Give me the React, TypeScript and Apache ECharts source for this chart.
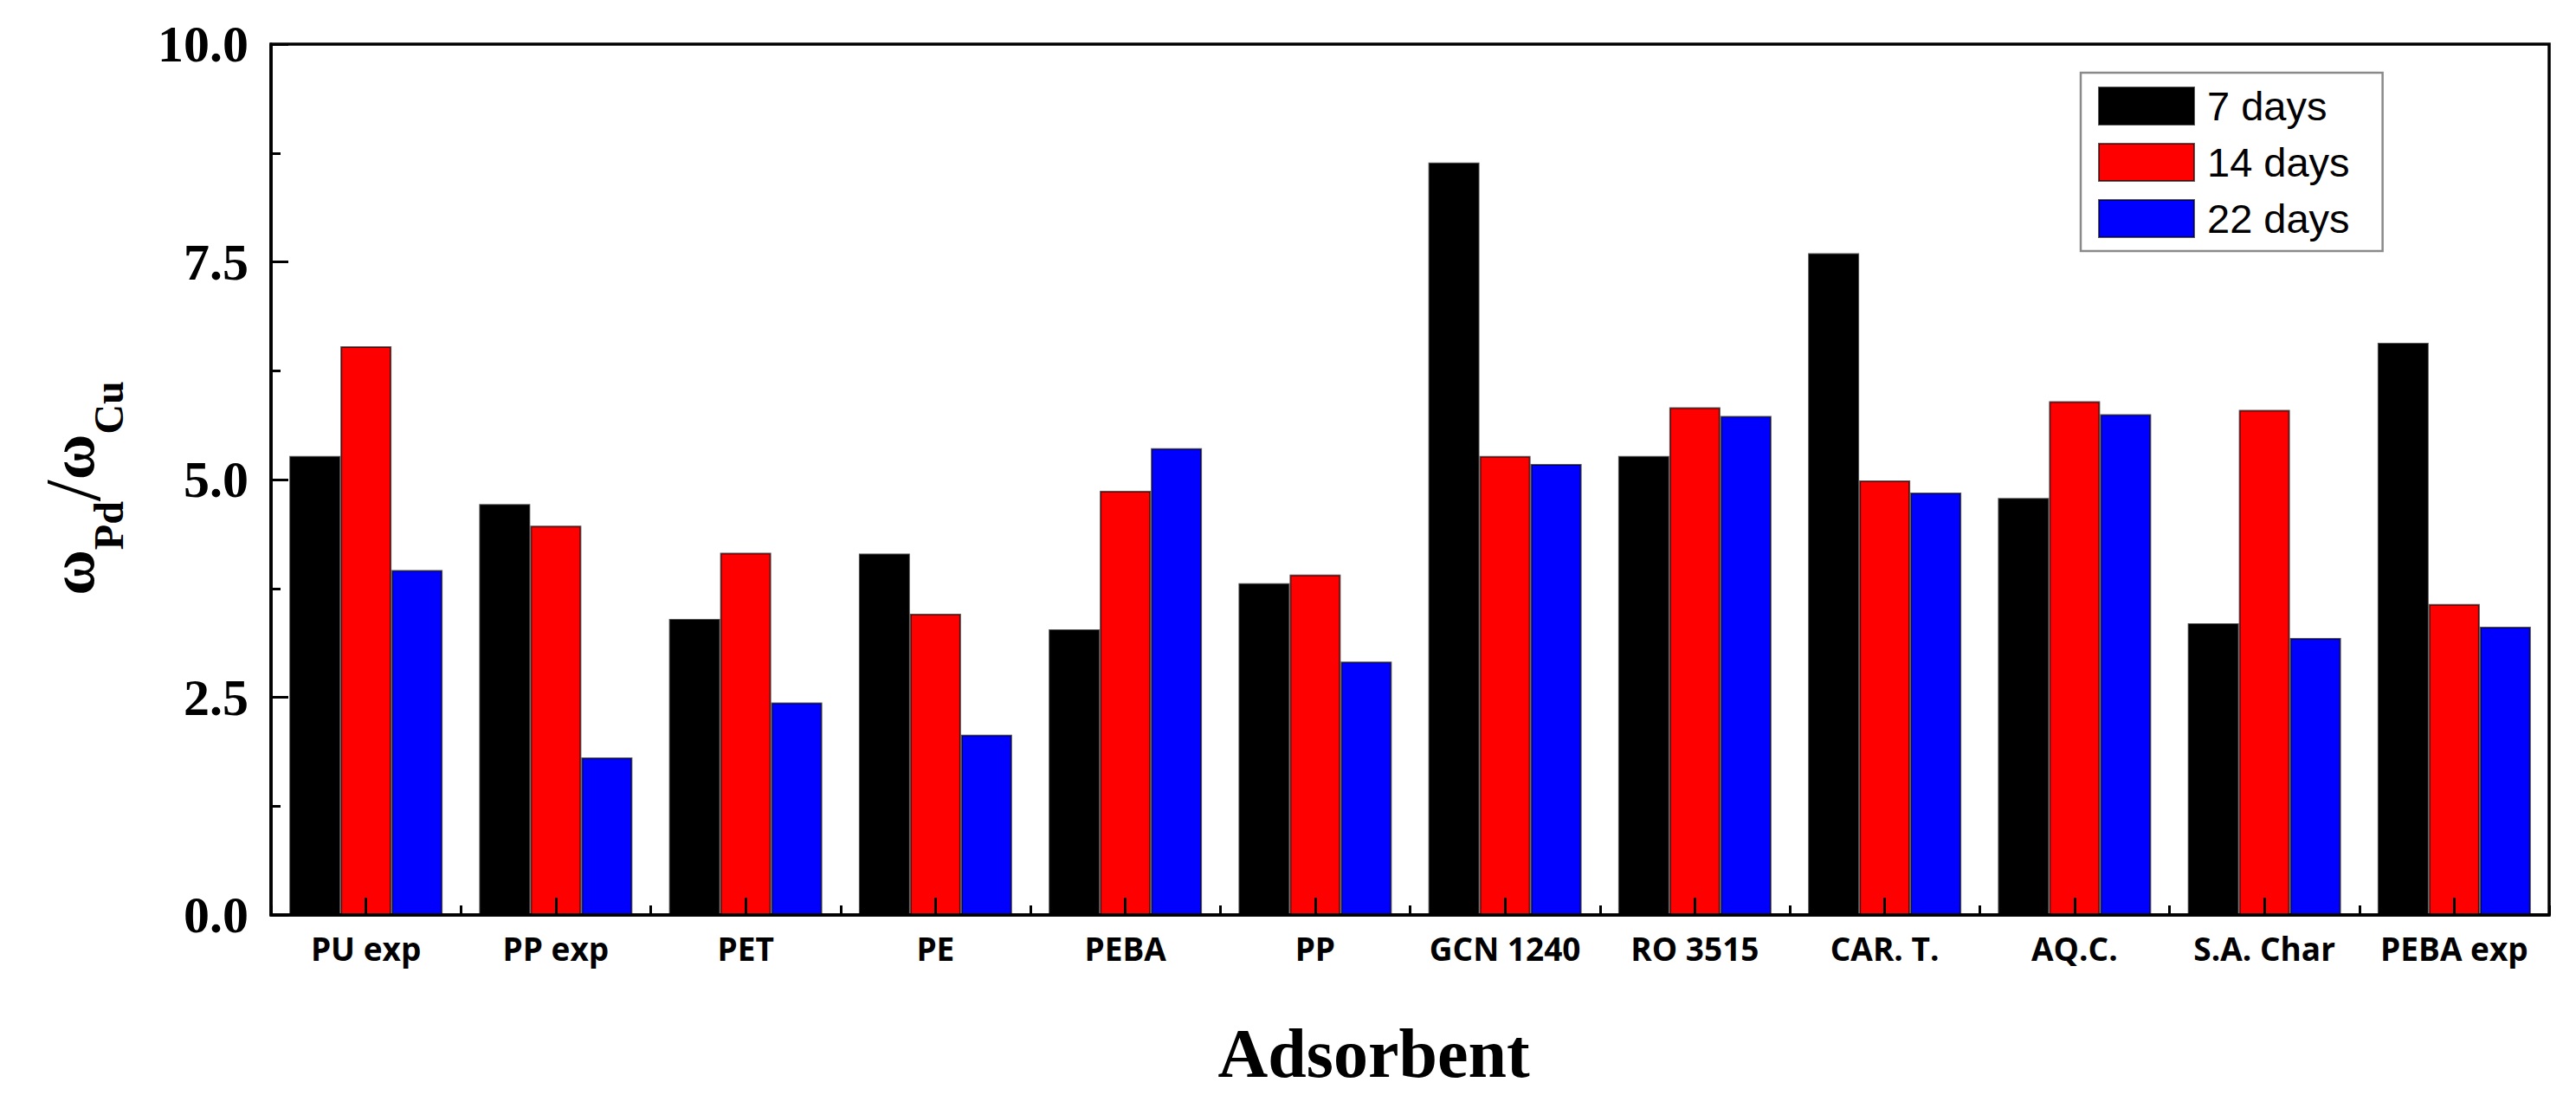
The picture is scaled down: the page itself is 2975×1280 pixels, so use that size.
import React, { useEffect, useRef } from "react";
import * as echarts from "echarts";

const categories = [
  "PU exp", "PP exp", "PET", "PE", "PEBA", "PP",
  "GCN 1240", "RO 3515", "CAR. T.", "AQ.C.", "S.A. Char", "PEBA exp",
];
const seriesNames = ["7 days", "14 days", "22 days"];
const days7 = [5.27, 4.72, 3.40, 4.15, 3.28, 3.81, 8.64, 5.27, 7.60, 4.79, 3.35, 6.57];
const days14 = [6.53, 4.47, 4.16, 3.46, 4.87, 3.91, 5.27, 5.83, 4.99, 5.90, 5.80, 3.57];
const days22 = [3.96, 1.81, 2.44, 2.07, 5.36, 2.91, 5.18, 5.73, 4.85, 5.75, 3.18, 3.31];
const seriesColors = ["#000000", "#ff0000", "#0000ff"];
const yTicks = [0, 2.5, 5, 7.5, 10];

export default function App() {
  const ref = useRef<HTMLDivElement>(null);
  useEffect(() => {
    if (!ref.current) return;
    const chart = echarts.init(ref.current, null, { renderer: "svg" });
    const values = [days7, days14, days22];
    chart.setOption({
      animation: false,
      backgroundColor: "#ffffff",
      grid: {
        left: 313,
        right: 31,
        top: 51,
        bottom: 223,
        show: true,
        borderColor: "#000",
        borderWidth: 3.5,
        backgroundColor: "transparent",
      },
      legend: {
        orient: "vertical",
        left: 2403,
        top: 84,
        icon: "rect",
        itemWidth: 110,
        itemHeight: 43,
        itemGap: 18,
        padding: [15, 38, 14, 20],
        borderColor: "#8a8a8a",
        borderWidth: 2.5,
        backgroundColor: "#fff",
        textStyle: {
          fontFamily: "Liberation Sans",
          fontSize: 47,
          color: "#000",
          lineHeight: 43,
          padding: [0, 0, 0, 10],
        },
        data: seriesNames,
      },
      xAxis: [
        {
          type: "category",
          data: categories,
          z: 10,
          axisLine: { show: true, lineStyle: { color: "#000", width: 3.5 } },
          axisTick: {
            show: true,
            inside: true,
            alignWithLabel: true,
            interval: 0,
            length: 20,
            lineStyle: { color: "#000", width: 3 },
          },
          axisLabel: {
            interval: 0,
            margin: 20,
            fontFamily: "Open Sans",
            fontWeight: "bold",
            fontSize: 37,
            color: "#000",
          },
          splitLine: { show: false },
          name: "Adsorbent",
          nameLocation: "middle",
          nameGap: 120,
          nameTextStyle: {
            fontFamily: "Liberation Serif",
            fontWeight: "bold",
            fontSize: 80,
            color: "#000",
            padding: [0, 84, 0, 0],
          },
        },
        {
          type: "category",
          data: categories,
          position: "bottom",
          z: 10,
          axisLine: { show: false },
          axisTick: {
            show: true,
            inside: true,
            alignWithLabel: false,
            interval: 0,
            length: 11,
            lineStyle: { color: "#000", width: 3 },
          },
          axisLabel: { show: false },
          splitLine: { show: false },
        },
      ],
      yAxis: {
        type: "value",
        min: yTicks[0],
        max: yTicks[yTicks.length - 1],
        interval: 2.5,
        z: 10,
        axisLine: { show: true, lineStyle: { color: "#000", width: 3.5 } },
        axisTick: { show: true, inside: true, length: 20, lineStyle: { color: "#000", width: 3 } },
        minorTick: { show: true, splitNumber: 2, length: 11, lineStyle: { color: "#000", width: 3 } },
        splitLine: { show: false },
        axisLabel: {
          margin: 26,
          fontFamily: "Liberation Serif",
          fontWeight: "bold",
          fontSize: 60,
          color: "#000",
          formatter: (v: number) => v.toFixed(1),
        },
        name: "{w|ω}{s|Pd}{sl|/}{w|ω}{s|Cu}",
        nameLocation: "middle",
        nameGap: 184,
        nameTextStyle: {
          color: "#000",
          padding: [0, 20, 0, 0],
          rich: {
            w: { fontFamily: "Liberation Serif", fontWeight: "bold", fontSize: 72, lineHeight: 72, color: "#000" },
            sl: { fontFamily: "Liberation Serif", fontWeight: "normal", fontSize: 90, lineHeight: 90, color: "#000" },
            s: {
              fontFamily: "Liberation Serif",
              fontWeight: "bold",
              fontSize: 48,
              lineHeight: 48,
              padding: [82, 0, 0, 0],
              color: "#000",
            },
          },
        },
      },
      series: seriesNames.map((name, i) => ({
        name,
        type: "bar",
        xAxisIndex: 0,
        data: values[i],
        barWidth: 59,
        barGap: "0%",
        itemStyle: {
          color: seriesColors[i],
          borderColor: "rgba(0,0,0,0.65)",
          borderWidth: 2,
        },
      })),
    });
    return () => chart.dispose();
  }, []);
  return (
    <div
      ref={ref}
      style={{ position: "fixed", left: 0, top: 0, width: 2975, height: 1280, background: "#fff" }}
    />
  );
}
